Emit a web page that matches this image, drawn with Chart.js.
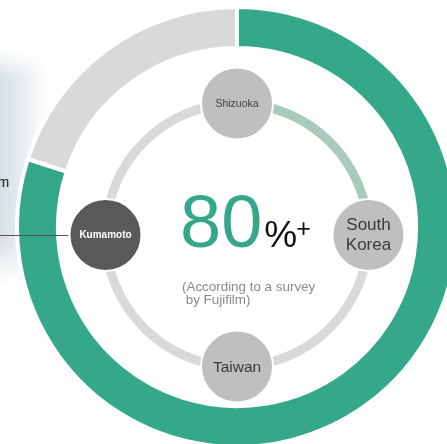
<!DOCTYPE html>
<html>
<head>
<meta charset="utf-8">
<script src="https://cdn.jsdelivr.net/npm/chart.js@4/dist/chart.umd.min.js"></script>
<style>
  html, body { margin: 0; padding: 0; background: #fff; }
  body { width: 447px; height: 444px; overflow: hidden; position: relative; font-family: "Liberation Sans", Arial, sans-serif; }
  canvas { position: absolute; left: 0; top: 0; }
  .mapfade {
    position: absolute; left: 0; top: 50px; width: 48px; height: 235px;
    background: linear-gradient(to right, #d6e0e4 0%, #e5ebee 40%, rgba(255,255,255,0) 100%);
    -webkit-mask-image: linear-gradient(to bottom, transparent 0%, #000 12%, #000 80%, transparent 100%);
    mask-image: linear-gradient(to bottom, transparent 0%, #000 12%, #000 80%, transparent 100%);
  }
  .cut { position: absolute; left: -2.5px; top: 175px; font-size: 14px; line-height: 14px; color: #111; }
</style>
</head>
<body>
<div class="mapfade"></div>
<div class="cut">m</div>
<canvas id="share" width="447" height="444"></canvas>
<canvas id="route" width="447" height="444"></canvas>
<canvas id="sites" width="447" height="444"></canvas>
<script>
// outer ring: share of the survey
const shareLabels = ['Fujifilm', 'Others'];
const shareValues = [80, 20];
const shareText = '80';

// inner ring: four quarters between the sites
const routeValues = [25, 25, 25, 25];

// sites placed on the inner ring (unit circle coords)
const siteNames = ['Shizuoka', 'South Korea', 'Taiwan', 'Kumamoto'];
const siteX = [0, 1, 0, -1];
const siteY = [1, 0, -1, 0];

const GREEN = '#35a88a';

const noUi = {
  responsive: false,
  animation: false,
  events: [],
  plugins: { legend: { display: false }, tooltip: { enabled: false } }
};

new Chart(document.getElementById('share'), {
  type: 'doughnut',
  data: {
    labels: shareLabels,
    datasets: [{
      data: shareValues,
      backgroundColor: [GREEN, '#d9d9d9'],
      borderColor: '#fff',
      borderWidth: 4
    }]
  },
  options: {
    ...noUi,
    radius: 220,
    cutout: '81.4%',
    layout: { padding: { left: 27, right: 0, top: 10, bottom: 0 } }
  }
});

new Chart(document.getElementById('route'), {
  type: 'doughnut',
  data: {
    labels: ['a', 'b', 'c', 'd'],
    datasets: [{
      data: routeValues,
      backgroundColor: ['#a9cbb9', '#d9d9d9', '#d9d9d9', '#d9d9d9'],
      borderWidth: 0
    }]
  },
  options: {
    ...noUi,
    radius: 136,
    cutout: '93.4%',
    layout: { padding: { left: 27, right: 0, top: 26, bottom: 0 } }
  }
});

// labels inside the circles, the connector line and the centre text
const siteLabels = {
  id: 'siteLabels',
  beforeDatasetsDraw(chart) {
    const ctx = chart.ctx;
    const p = chart.getDatasetMeta(0).data[3];
    ctx.save();
    ctx.strokeStyle = '#555';
    ctx.lineWidth = 1;
    ctx.beginPath();
    ctx.moveTo(0, Math.round(p.y) + 0.5);
    ctx.lineTo(p.x - 36, Math.round(p.y) + 0.5);
    ctx.stroke();
    ctx.restore();
  },
  afterDatasetsDraw(chart) {
    const ctx = chart.ctx;
    const pts = chart.getDatasetMeta(0).data;
    const font = '"Liberation Sans", Arial, sans-serif';
    ctx.save();
    ctx.textAlign = 'center';
    ctx.textBaseline = 'middle';

    ctx.fillStyle = '#404040';
    ctx.font = '10.5px ' + font;
    ctx.fillText(siteNames[0], pts[0].x, pts[0].y + 1);

    ctx.fillStyle = '#3a3a3a';
    ctx.font = '17px ' + font;
    const sk = siteNames[1].split(' ');
    ctx.fillText(sk[0], pts[1].x, pts[1].y - 10);
    ctx.fillText(sk[1], pts[1].x, pts[1].y + 10);

    ctx.font = '15.5px ' + font;
    ctx.fillText(siteNames[2], pts[2].x, pts[2].y + 1);

    ctx.fillStyle = '#fff';
    ctx.font = 'bold 10px ' + font;
    ctx.fillText(siteNames[3], pts[3].x, pts[3].y);

    // centre
    const cx = chart.scales.x.getPixelForValue(0);
    const cy = chart.scales.y.getPixelForValue(0);
    ctx.textAlign = 'left';
    ctx.textBaseline = 'alphabetic';
    ctx.fillStyle = GREEN;
    ctx.font = '74px ' + font;
    const x0 = cx - 57;
    ctx.fillText(shareText, x0, cy + 12);
    const w80 = ctx.measureText(shareText).width;
    ctx.fillStyle = '#111';
    ctx.font = '37px ' + font;
    ctx.fillText('%', x0 + w80 + 2, cy + 12);
    const wp = ctx.measureText('%').width;
    ctx.font = '25px ' + font;
    ctx.fillText('+', x0 + w80 + wp + 1, cy + 2);

    ctx.fillStyle = '#8a8a8a';
    ctx.font = '13.4px ' + font;
    ctx.fillText('(According to a survey', cx - 55, cy + 56);
    ctx.fillText(' by Fujifilm)', cx - 55, cy + 69);
    ctx.restore();
  }
};

new Chart(document.getElementById('sites'), {
  type: 'scatter',
  data: {
    labels: siteNames,
    datasets: [{
      data: siteX.map((x, i) => ({ x: x, y: siteY[i] })),
      pointRadius: 36,
      pointBackgroundColor: ['#bfbfbf', '#bfbfbf', '#bfbfbf', '#595959'],
      pointBorderColor: '#fff',
      pointBorderWidth: 2,
      clip: false
    }]
  },
  options: {
    ...noUi,
    layout: { padding: { left: 105.5, right: 78.5, top: 103.5, bottom: 77.5 } },
    scales: {
      x: { type: 'linear', min: -1, max: 1, display: false },
      y: { type: 'linear', min: -1, max: 1, display: false }
    }
  },
  plugins: [siteLabels]
});
</script>
</body>
</html>
